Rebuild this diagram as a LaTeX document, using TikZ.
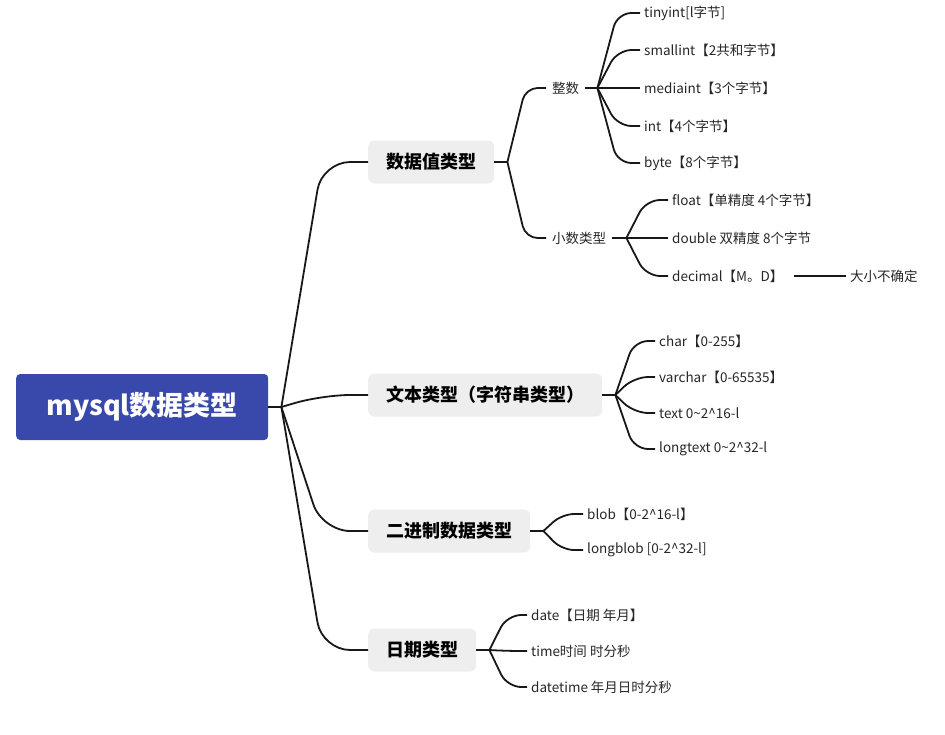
\documentclass[tikz,border=0pt]{standalone}
\usepackage{fontspec}
\usepackage{xcolor}
\usepackage{tikz}
\usetikzlibrary{calc}
\setmainfont{Noto Sans CJK SC}
\definecolor{rootcol}{RGB}{57,73,171}
\definecolor{boxcol}{RGB}{238,238,238}
\definecolor{linecol}{RGB}{24,24,24}
\definecolor{txtcol}{RGB}{38,38,38}
% grana od racve do cvora: ravna crta pa zaobljeni kut
\newcommand\branchto[3][14pt]{%
  \draw[conn, rounded corners=#1] let \p1=(#2), \p2=(#3) in
    (#2) -- ({\x1+0.47*(\x2-\x1)},{\y2}) -- (#3);}

\begin{document}
\begin{tikzpicture}[x=1pt, y=-1pt,
  rootbox/.style={fill=rootcol, text=white, rounded corners=4pt, inner sep=0pt,
    minimum height=66pt, font=\fontsize{27}{30}\selectfont\bfseries, anchor=west},
  catbox/.style={fill=boxcol, rounded corners=6pt, inner sep=0pt,
    minimum height=43pt, font=\fontsize{18}{21}\selectfont\bfseries, anchor=west},
  subtxt/.style={font=\fontsize{13.5}{16}\selectfont, text=txtcol, inner xsep=6pt, anchor=west},
  leaf/.style={font=\fontsize{13.5}{16}\selectfont, text=txtcol, inner xsep=4pt, anchor=west},
  conn/.style={draw=linecol, line width=1.8pt}
]
  \useasboundingbox (0,0) rectangle (945,734);

  % koren
  \node[rootbox, minimum width=252pt] (root) at (16,407) {mysql数据类型};
  \coordinate (rootF) at ([xshift=13pt]root.east);

  % glavne grane
  \node[catbox, minimum width=126pt] (num)  at (368,162) {数据值类型};
  \node[catbox, minimum width=234pt] (str)  at (368,395) {文本类型（字符串类型）};
  \node[catbox, minimum width=162pt] (bin)  at (368,531) {二进制数据类型};
  \node[catbox, minimum width=108pt] (date) at (368,650) {日期类型};

  \draw[conn] (root.east) -- (rootF);
  \foreach \c in {num,str,bin,date} {
    \branchto[28pt]{rootF}{\c.west}
  }

  % brojevi
  \coordinate (numF) at ([xshift=13pt]num.east);
  \node[subtxt] (int) at (546,88)  {整数};
  \node[subtxt] (dec) at (546,238) {小数类型};
  \draw[conn] (num.east) -- (numF);
  \branchto[12pt]{numF}{int.west}
  \branchto[12pt]{numF}{dec.west}

  \coordinate (intF) at ([xshift=12pt]int.east);
  \draw[conn] (int.east) -- (intF);
  \foreach \y/\t [count=\i] in {13/{tinyint[l字节]}, 50/{smallint【2共和字节】},
      88/{mediaint【3个字节】}, 126/{int【4个字节】}, 163/{byte【8个字节】}} {
    \node[leaf] (int\i) at (640,\y) {\t};
    \branchto{intF}{int\i.west}
  }

  \coordinate (decF) at ([xshift=14pt]dec.east);
  \draw[conn] (dec.east) -- (decF);
  \foreach \y/\t [count=\i] in {200/{float【单精度 4个字节】}, 238/{double 双精度 8个字节},
      276/{decimal【M。D】}} {
    \node[leaf] (dec\i) at (668,\y) {\t};
    \branchto{decF}{dec\i.west}
  }
  \node[leaf] (size) at (846,276) {大小不确定};
  \draw[conn] ([xshift=6pt]dec3.east) -- (size.west);

  % tekst
  \coordinate (strF) at ([xshift=13pt]str.east);
  \draw[conn] (str.east) -- (strF);
  \foreach \y/\t [count=\i] in {341/{char【0-255】}, 377/{varchar【0-65535】},
      413/{text 0\textasciitilde 2\textasciicircum 16-l},
      449/{longtext 0\textasciitilde 2\textasciicircum 32-l}} {
    \node[leaf] (str\i) at (655,\y) {\t};
    \branchto{strF}{str\i.west}
  }

  % binarni
  \coordinate (binF) at ([xshift=13pt]bin.east);
  \draw[conn] (bin.east) -- (binF);
  \foreach \y/\t [count=\i] in {514/{blob【0-2\textasciicircum 16-l】},
      550/{longblob [0-2\textasciicircum 32-l]}} {
    \node[leaf] (bin\i) at (583,\y) {\t};
    \branchto[12pt]{binF}{bin\i.west}
  }

  % datum
  \coordinate (dateF) at ([xshift=13pt]date.east);
  \draw[conn] (date.east) -- (dateF);
  \foreach \y/\t [count=\i] in {615/{date【日期 年月】}, 651/{time时间 时分秒},
      687/{datetime 年月日时分秒}} {
    \node[leaf] (date\i) at (527,\y) {\t};
    \branchto{dateF}{date\i.west}
  }

\end{tikzpicture}
\end{document}
